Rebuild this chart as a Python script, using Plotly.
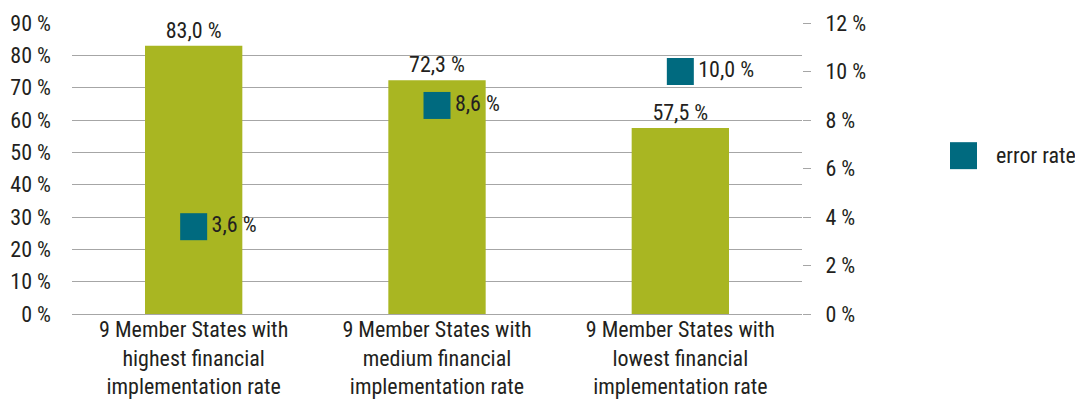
import plotly.graph_objects as go

categories = [
    "9 Member States with<br>highest financial<br>implementation rate",
    "9 Member States with<br>medium financial<br>implementation rate",
    "9 Member States with<br>lowest financial<br>implementation rate",
]
implementation_rate = [83.0, 72.3, 57.5]
error_rate = [3.6, 8.6, 10.0]
left_ticks = list(range(0, 91, 10))
right_ticks = list(range(0, 13, 2))


def fmt(v):
    return f"{v:.1f}".replace(".", ",") + " %"


FONT = "Roboto Condensed, Liberation Sans, sans-serif"
FS = 22
TXT = "#231f20"
BAR = "#a9b622"
TEAL = "#006a7f"
GRID = "#a6a6a6"

fig = go.Figure()
fig.add_trace(go.Bar(
    x=categories, y=implementation_rate,
    marker=dict(color=BAR, line=dict(width=0)),
    text=[fmt(v) for v in implementation_rate],
    textposition="outside", cliponaxis=False,
    textfont=dict(family=FONT, size=FS, color=TXT),
    showlegend=False, yaxis="y",
))
fig.add_trace(go.Scatter(
    x=categories, y=error_rate, mode="markers+text",
    marker=dict(symbol="square", size=27, color=TEAL),
    text=[fmt(v) for v in error_rate],
    textposition="middle right",
    textfont=dict(family=FONT, size=FS, color=TXT),
    showlegend=False, yaxis="y2", cliponaxis=False,
))

fig.update_layout(
    width=1075, height=406,
    margin=dict(l=72, r=273, t=23, b=92, autoexpand=False),
    paper_bgcolor="white", plot_bgcolor="white",
    font=dict(family=FONT, size=FS, color=TXT),
    bargap=0.6,
    xaxis=dict(showgrid=False, showline=False, ticks="", zeroline=False,
               automargin=False,
               tickfont=dict(family=FONT, size=FS, color=TXT)),
    yaxis=dict(range=[0, 90], tickvals=left_ticks,
               ticktext=[f"{v} %" for v in left_ticks],
               showgrid=True, gridcolor=GRID, gridwidth=1.3,
               zeroline=True, zerolinecolor=GRID, zerolinewidth=1.3,
               showline=False, ticks="", ticklabelstandoff=20,
               automargin=False,
               tickfont=dict(family=FONT, size=FS, color=TXT)),
    yaxis2=dict(range=[0, 12], tickvals=right_ticks,
                ticktext=[f"{v} %" for v in right_ticks],
                overlaying="y", side="right", showgrid=False, zeroline=False,
                showline=False, ticks="outside", ticklen=8, tickcolor=GRID,
                tickwidth=1.3, ticklabelstandoff=10, automargin=False,
                tickfont=dict(family=FONT, size=FS, color=TXT)),
)

# manual legend
fig.add_shape(type="rect", xref="paper", yref="paper",
              x0=(950 - 72) / 730, x1=(977 - 72) / 730,
              y0=(314 - 169) / 291.3, y1=(314 - 142) / 291.3,
              fillcolor=TEAL, line=dict(width=0))
fig.add_annotation(text="error rate", xref="paper", yref="paper",
                   x=(994 - 72) / 730, y=(314 - 155.5) / 291.3,
                   xanchor="left", yanchor="middle", showarrow=False,
                   font=dict(family=FONT, size=FS, color=TXT))

fig.write_html("out.html", config={"displayModeBar": False},
               post_script="document.body.style.margin='0px';document.body.style.overflow='hidden';")
